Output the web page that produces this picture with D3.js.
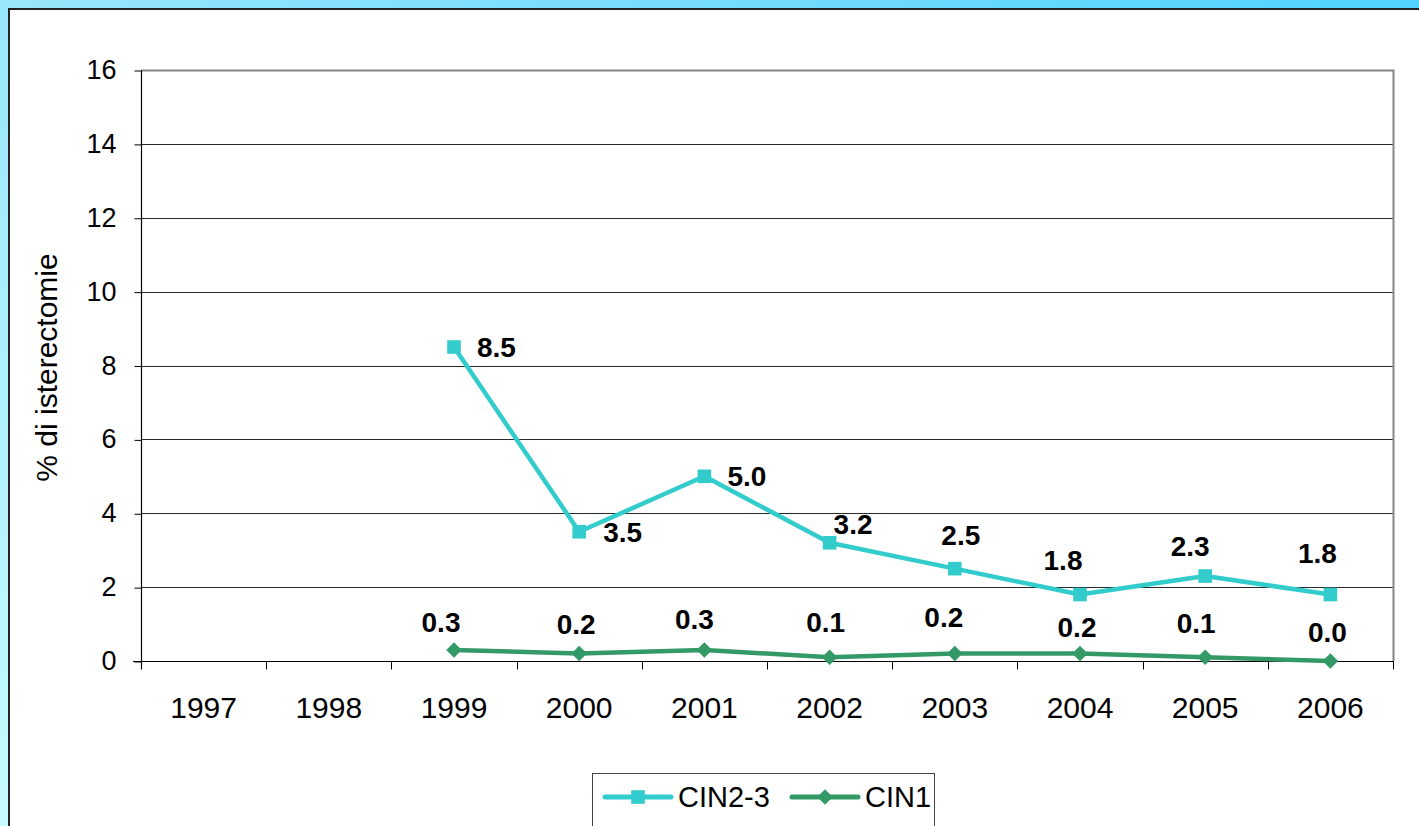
<!DOCTYPE html>
<html>
<head>
<meta charset="utf-8">
<script src="https://cdn.jsdelivr.net/npm/d3@7"></script>
<style>
  html, body { margin: 0; padding: 0; background: #fff; }
  svg { display: block; font-family: "Liberation Sans", Arial, sans-serif; }
</style>
</head>
<body>
<svg id="chart" width="1419" height="826"></svg>
<script>
// Anni di osservazione
const years = ["1997", "1998", "1999", "2000", "2001", "2002", "2003", "2004", "2005", "2006"];
// % di isterectomie per CIN2-3 (nessun dato 1997-1998)
const cin23 = [null, null, 8.5, 3.5, 5.0, 3.2, 2.5, 1.8, 2.3, 1.8];
// % di isterectomie per CIN1
const cin1 = [null, null, 0.3, 0.2, 0.3, 0.1, 0.2, 0.2, 0.1, 0.0];
const yTicks = [0, 2, 4, 6, 8, 10, 12, 14, 16];
const seriesNames = ["CIN2-3", "CIN1"];

const svg = d3.select("#chart");
const W = 1419, H = 826;
const FONT = "Liberation Sans, Arial, sans-serif";

// Cornice azzurra con sfumatura
const defs = svg.append("defs");
const grad = defs.append("linearGradient").attr("id", "frame")
  .attr("x1", "0").attr("y1", "1").attr("x2", "1").attr("y2", "0");
grad.append("stop").attr("offset", "0").attr("stop-color", "#c6fbff");
grad.append("stop").attr("offset", "0.5").attr("stop-color", "#98e6fb");
grad.append("stop").attr("offset", "1").attr("stop-color", "#50d2ff");
svg.append("rect").attr("width", W).attr("height", H).attr("fill", "url(#frame)");

// Pannello bianco
svg.append("rect").attr("x", 11).attr("y", 11).attr("width", W).attr("height", H)
  .attr("fill", "none").attr("stroke", "#9a9a9a").attr("stroke-width", 2);
svg.append("rect").attr("x", 9).attr("y", 9).attr("width", W).attr("height", H)
  .attr("fill", "#fff").attr("stroke", "#222").attr("stroke-width", 2);

const plot = { left: 141, right: 1393, top: 70, bottom: 661 };

const x = d3.scaleBand().domain(years).range([plot.left, plot.right]);
const y = d3.scaleLinear().domain([0, 16]).range([plot.bottom, plot.top]);
const cx = d => x(d) + x.bandwidth() / 2;

// Griglia orizzontale
svg.append("g").selectAll("line").data(yTicks.filter(t => t > 0 && t < 16)).join("line")
  .attr("x1", plot.left).attr("x2", plot.right)
  .attr("y1", d => Math.round(y(d)) + 0.5).attr("y2", d => Math.round(y(d)) + 0.5)
  .attr("stroke", "#2a2a2a").attr("stroke-width", 1);

// Bordo superiore e destro dell'area del grafico
svg.append("path")
  .attr("d", `M${plot.left},${plot.top + 0.5}H${plot.right + 0.5}V${plot.bottom}`)
  .attr("fill", "none").attr("stroke", "#858585").attr("stroke-width", 2);

// Asse Y
const yAxis = d3.axisLeft(y).tickValues(yTicks).tickSize(7).tickPadding(18).tickFormat(d3.format("d"));
const gy = svg.append("g").attr("transform", `translate(${plot.left + 0.5},0.5)`).call(yAxis);
gy.select(".domain").attr("stroke", "#000").attr("stroke-width", 1.2).attr("d", `M0,${plot.top}V${plot.bottom + 8}`);
gy.selectAll(".tick line").attr("stroke", "#000");
gy.selectAll(".tick text").attr("font-size", 27).attr("fill", "#000")
  .attr("font-family", FONT).attr("dy", "0.3em");

// Asse X: tacche ai confini delle categorie
const gx = svg.append("g").attr("transform", `translate(0,${plot.bottom + 0.5})`);
gx.append("line").attr("x1", plot.left - 8).attr("x2", plot.right + 1)
  .attr("stroke", "#000").attr("stroke-width", 1.2);
const bounds = years.map(d => x(d)).concat([plot.right]);
gx.selectAll("line.tk").data(bounds.slice(1)).join("line").attr("class", "tk")
  .attr("x1", d => Math.round(d) + 0.5).attr("x2", d => Math.round(d) + 0.5)
  .attr("y1", 0).attr("y2", 8).attr("stroke", "#000");
gx.selectAll("text").data(years).join("text")
  .attr("x", d => cx(d)).attr("y", 46).attr("dy", "0.35em")
  .attr("text-anchor", "middle").attr("font-size", 30).attr("fill", "#000")
  .text(d => d);

// Titolo asse Y
svg.append("text")
  .attr("transform", `translate(46,${(plot.top + plot.bottom) / 2 + 2}) rotate(-90)`)
  .attr("text-anchor", "middle").attr("dy", "0.35em").attr("font-size", 30).attr("fill", "#000")
  .text("% di isterectomie");

const colors = { "CIN2-3": "#33cccc", "CIN1": "#339966" };

function drawSeries(values, color, isSquare) {
  const pts = years.map((yr, i) => ({ yr, v: values[i] })).filter(p => p.v !== null);
  const line = d3.line().x(p => cx(p.yr)).y(p => y(p.v));
  svg.append("path").datum(pts).attr("d", line)
    .attr("fill", "none").attr("stroke", color).attr("stroke-width", 4.5)
    .attr("stroke-linejoin", "round");
  svg.append("g").selectAll("path").data(pts).join("path")
    .attr("transform", p => `translate(${cx(p.yr)},${y(p.v)})` + (isSquare ? "" : " rotate(45)"))
    .attr("d", d3.symbol().type(d3.symbolSquare).size(isSquare ? 185 : 120))
    .attr("fill", color);
  return pts;
}

const pts23 = drawSeries(cin23, colors["CIN2-3"], true);
const pts1 = drawSeries(cin1, colors["CIN1"], false);

// Posizione del centro dell'etichetta rispetto al marcatore: [dx, dy, ancoraggio]
const labelOffset23 = {
  "1999": [23, 0, "start"], "2000": [24, 0, "start"], "2001": [23, 0, "start"],
  "2002": [4, -19, "start"], "2003": [6, -34, "middle"], "2004": [-17, -35, "middle"],
  "2005": [-15, -30, "middle"], "2006": [-13, -42, "middle"]
};
const labelOffset1 = {
  "1999": [-13, -28, "middle"], "2000": [-3, -30, "middle"], "2001": [-10, -31, "middle"],
  "2002": [-4, -35, "middle"], "2003": [-11, -37, "middle"], "2004": [-3, -27, "middle"],
  "2005": [-9, -34, "middle"], "2006": [-3, -29, "middle"]
};
const fmt = d3.format(".1f");
function drawLabels(pts, offsets) {
  svg.append("g").selectAll("text").data(pts).join("text")
    .attr("x", p => cx(p.yr) + offsets[p.yr][0])
    .attr("y", p => y(p.v) + offsets[p.yr][1])
    .attr("dy", "0.36em")
    .attr("text-anchor", p => offsets[p.yr][2])
    .attr("font-size", 28).attr("font-weight", "bold").attr("fill", "#000")
    .text(p => fmt(p.v));
}
drawLabels(pts23, labelOffset23);
drawLabels(pts1, labelOffset1);

// Legenda
const lg = svg.append("g");
lg.append("rect").attr("x", 592.5).attr("y", 773.5).attr("width", 342).attr("height", 80)
  .attr("fill", "#fff").attr("stroke", "#444").attr("stroke-width", 1);
const items = [
  { name: seriesNames[0], x0: 605, square: true },
  { name: seriesNames[1], x0: 792, square: false }
];
items.forEach(it => {
  const c = colors[it.name];
  lg.append("line").attr("x1", it.x0).attr("x2", it.x0 + 66).attr("y1", 797).attr("y2", 797)
    .attr("stroke", c).attr("stroke-width", 5).attr("stroke-linecap", "round");
  lg.append("path")
    .attr("d", d3.symbol().type(d3.symbolSquare).size(it.square ? 185 : 120))
    .attr("fill", c)
    .attr("transform", `translate(${it.x0 + 33},797)` + (it.square ? "" : " rotate(45)"));
  lg.append("text").attr("x", it.x0 + 73).attr("y", 797).attr("dy", "0.36em")
    .attr("font-size", 29).attr("fill", "#000")
    .text(it.name);
});
</script>
</body>
</html>
